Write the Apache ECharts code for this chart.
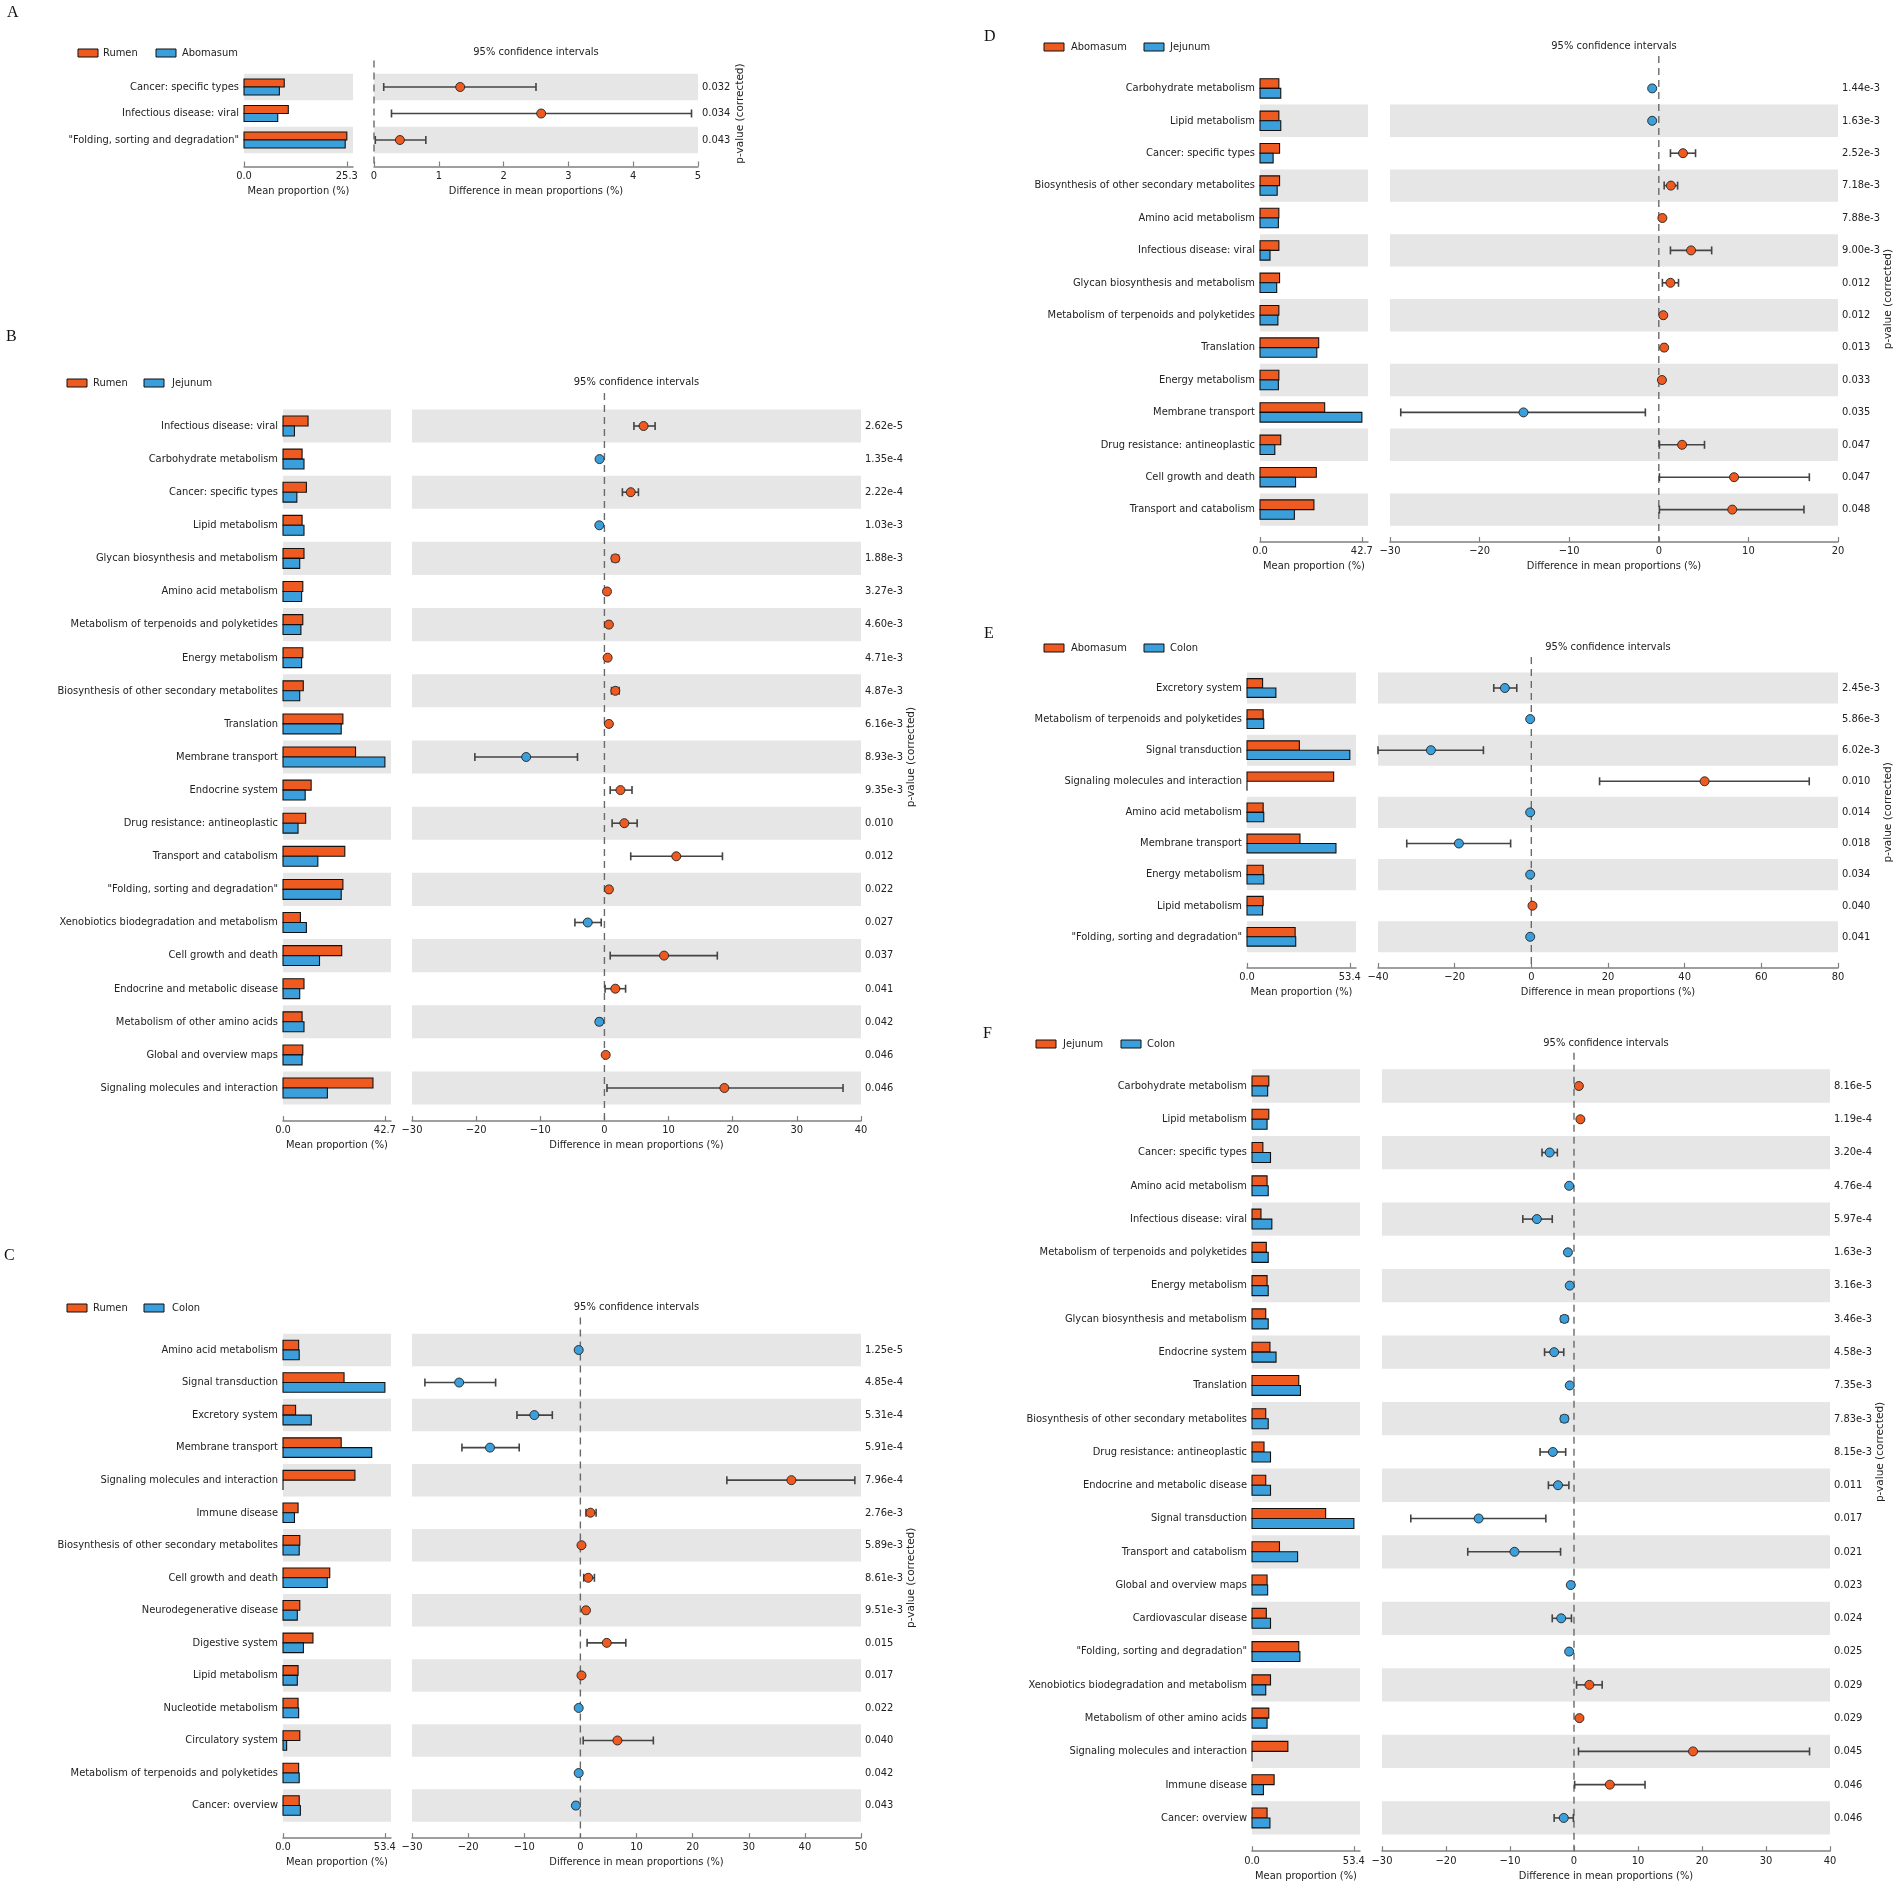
<!DOCTYPE html>
<html lang="en">
<head>
    <meta charset="UTF-8">
    <title>Extended error bar plots</title>
    <script src="https://cdn.jsdelivr.net/npm/echarts@6.0.0/dist/echarts.min.js"></script>
    <style>
        html, body { margin: 0; padding: 0; background: #fff; }
        #main { width: 1902px; height: 1889px; }
    </style>
</head>
<body>
<div id="main"></div>
<script>
    // ---------- A: Rumen vs Abomasum ----------
    var aNames = ['Cancer: specific types', 'Infectious disease: viral', '"Folding, sorting and degradation"'];
    var aGroup1 = [9.9, 10.9, 25.3];
    var aGroup2 = [8.7, 8.3, 24.9];
    var aDiff = [1.33, 2.58, 0.40];
    var aLow = [0.15, 0.27, 0.02];
    var aHigh = [2.50, 4.90, 0.80];
    var aPval = ['0.032', '0.034', '0.043'];

    // ---------- B: Rumen vs Jejunum ----------
    var bNames = ['Infectious disease: viral', 'Carbohydrate metabolism', 'Cancer: specific types', 'Lipid metabolism',
        'Glycan biosynthesis and metabolism', 'Amino acid metabolism', 'Metabolism of terpenoids and polyketides',
        'Energy metabolism', 'Biosynthesis of other secondary metabolites', 'Translation', 'Membrane transport',
        'Endocrine system', 'Drug resistance: antineoplastic', 'Transport and catabolism',
        '"Folding, sorting and degradation"', 'Xenobiotics biodegradation and metabolism', 'Cell growth and death',
        'Endocrine and metabolic disease', 'Metabolism of other amino acids', 'Global and overview maps',
        'Signaling molecules and interaction'];
    var bGroup1 = [10.5, 8.0, 9.8, 8.0, 8.8, 8.3, 8.3, 8.3, 8.5, 25.1, 30.4, 11.8, 9.5, 25.9, 25.1, 7.3, 24.6, 8.8, 8.0, 8.3, 37.7];
    var bGroup2 = [4.8, 8.8, 5.8, 8.8, 7.0, 7.8, 7.5, 7.8, 7.0, 24.4, 42.7, 9.3, 6.3, 14.6, 24.4, 9.8, 15.3, 7.0, 8.8, 8.0, 18.6];
    var bDiff = [6.1, -0.76, 4.1, -0.8, 1.7, 0.4, 0.7, 0.5, 1.7, 0.7, -12.2, 2.5, 3.1, 11.2, 0.7, -2.6, 9.3, 1.7, -0.8, 0.2, 18.7];
    var bLow = [4.6, -0.95, 2.8, -1.0, 1.2, 0.2, 0.4, 0.3, 1.1, 0.4, -20.2, 0.9, 1.2, 4.1, 0.4, -4.6, 0.9, 0.1, -1.2, 0.05, 0.4];
    var bHigh = [7.9, -0.55, 5.3, -0.6, 2.2, 0.6, 1.0, 0.7, 2.3, 1.0, -4.2, 4.3, 5.1, 18.4, 1.0, -0.5, 17.6, 3.3, -0.4, 0.35, 37.2];
    var bPval = ['2.62e-5', '1.35e-4', '2.22e-4', '1.03e-3', '1.88e-3', '3.27e-3', '4.60e-3', '4.71e-3', '4.87e-3',
        '6.16e-3', '8.93e-3', '9.35e-3', '0.010', '0.012', '0.022', '0.027', '0.037', '0.041', '0.042', '0.046', '0.046'];

    // ---------- C: Rumen vs Colon ----------
    var cNames = ['Amino acid metabolism', 'Signal transduction', 'Excretory system', 'Membrane transport',
        'Signaling molecules and interaction', 'Immune disease', 'Biosynthesis of other secondary metabolites',
        'Cell growth and death', 'Neurodegenerative disease', 'Digestive system', 'Lipid metabolism',
        'Nucleotide metabolism', 'Circulatory system', 'Metabolism of terpenoids and polyketides', 'Cancer: overview'];
    var cGroup1 = [8.2, 32.0, 6.6, 30.5, 37.7, 7.9, 8.8, 24.5, 8.8, 15.7, 7.9, 7.9, 8.8, 8.2, 8.5];
    var cGroup2 = [8.5, 53.4, 14.8, 46.5, 0, 6.0, 8.5, 23.2, 7.5, 10.7, 7.5, 8.2, 1.9, 8.5, 9.1];
    var cDiff = [-0.3, -21.6, -8.2, -16.1, 37.6, 1.8, 0.2, 1.4, 1.0, 4.7, 0.2, -0.3, 6.6, -0.3, -0.8];
    var cLow = [-0.5, -27.7, -11.3, -21.1, 26.1, 1.0, 0.05, 0.6, 0.6, 1.2, 0.05, -0.5, 0.5, -0.5, -1.2];
    var cHigh = [-0.1, -15.1, -5.0, -10.9, 48.9, 2.8, 0.35, 2.5, 1.4, 8.1, 0.35, -0.1, 13.0, -0.1, -0.4];
    var cPval = ['1.25e-5', '4.85e-4', '5.31e-4', '5.91e-4', '7.96e-4', '2.76e-3', '5.89e-3', '8.61e-3', '9.51e-3',
        '0.015', '0.017', '0.022', '0.040', '0.042', '0.043'];

    // ---------- D: Abomasum vs Jejunum ----------
    var dNames = ['Carbohydrate metabolism', 'Lipid metabolism', 'Cancer: specific types',
        'Biosynthesis of other secondary metabolites', 'Amino acid metabolism', 'Infectious disease: viral',
        'Glycan biosynthesis and metabolism', 'Metabolism of terpenoids and polyketides', 'Translation',
        'Energy metabolism', 'Membrane transport', 'Drug resistance: antineoplastic', 'Cell growth and death',
        'Transport and catabolism'];
    var dGroup1 = [7.9, 7.9, 8.2, 8.2, 7.9, 7.9, 8.2, 7.9, 24.6, 7.9, 27.1, 8.7, 23.6, 22.6];
    var dGroup2 = [8.7, 8.7, 5.5, 7.2, 7.7, 4.2, 7.0, 7.5, 23.8, 7.7, 42.7, 6.2, 14.9, 14.4];
    var dDiff = [-0.74, -0.74, 2.7, 1.35, 0.4, 3.6, 1.3, 0.5, 0.6, 0.35, -15.1, 2.6, 8.4, 8.2];
    var dLow = [-0.9, -0.9, 1.3, 0.6, 0.25, 1.3, 0.4, 0.3, 0.4, 0.2, -28.8, 0.07, 0.07, 0.07];
    var dHigh = [-0.58, -0.58, 4.1, 2.1, 0.55, 5.9, 2.2, 0.7, 0.8, 0.5, -1.5, 5.1, 16.8, 16.2];
    var dPval = ['1.44e-3', '1.63e-3', '2.52e-3', '7.18e-3', '7.88e-3', '9.00e-3', '0.012', '0.012', '0.013',
        '0.033', '0.035', '0.047', '0.047', '0.048'];

    // ---------- E: Abomasum vs Colon ----------
    var eNames = ['Excretory system', 'Metabolism of terpenoids and polyketides', 'Signal transduction',
        'Signaling molecules and interaction', 'Amino acid metabolism', 'Membrane transport', 'Energy metabolism',
        'Lipid metabolism', '"Folding, sorting and degradation"'];
    var eGroup1 = [8.1, 8.4, 27.2, 45.0, 8.4, 27.5, 8.4, 8.4, 25.0];
    var eGroup2 = [15.0, 8.7, 53.4, 0, 8.7, 46.2, 8.7, 8.1, 25.3];
    var eDiff = [-6.9, -0.3, -26.2, 45.2, -0.3, -18.9, -0.3, 0.3, -0.3];
    var eLow = [-9.8, -0.5, -40.0, 17.8, -0.5, -32.5, -0.5, 0.15, -0.5];
    var eHigh = [-3.8, -0.1, -12.5, 72.5, -0.1, -5.4, -0.1, 0.45, -0.1];
    var ePval = ['2.45e-3', '5.86e-3', '6.02e-3', '0.010', '0.014', '0.018', '0.034', '0.040', '0.041'];

    // ---------- F: Jejunum vs Colon ----------
    var fNames = ['Carbohydrate metabolism', 'Lipid metabolism', 'Cancer: specific types', 'Amino acid metabolism',
        'Infectious disease: viral', 'Metabolism of terpenoids and polyketides', 'Energy metabolism',
        'Glycan biosynthesis and metabolism', 'Endocrine system', 'Translation',
        'Biosynthesis of other secondary metabolites', 'Drug resistance: antineoplastic',
        'Endocrine and metabolic disease', 'Signal transduction', 'Transport and catabolism',
        'Global and overview maps', 'Cardiovascular disease', '"Folding, sorting and degradation"',
        'Xenobiotics biodegradation and metabolism', 'Metabolism of other amino acids',
        'Signaling molecules and interaction', 'Immune disease', 'Cancer: overview'];
    var fGroup1 = [8.8, 8.8, 5.7, 7.9, 4.7, 7.5, 7.9, 7.2, 9.4, 24.5, 7.2, 6.3, 7.2, 38.6, 14.4, 7.9, 7.5, 24.5, 9.7, 8.8, 18.8, 11.6, 7.9];
    var fGroup2 = [8.2, 7.9, 9.7, 8.5, 10.4, 8.5, 8.5, 8.5, 12.6, 25.4, 8.5, 9.7, 9.7, 53.4, 23.9, 8.2, 9.7, 25.1, 7.2, 7.9, 0, 6.0, 9.4];
    var fDiff = [0.76, 1.0, -3.8, -0.76, -5.8, -0.95, -0.66, -1.5, -3.1, -0.66, -1.5, -3.3, -2.5, -14.9, -9.3, -0.5, -2.0, -0.76, 2.4, 0.85, 18.6, 5.6, -1.6];
    var fLow = [0.55, 0.8, -5.0, -0.95, -8.0, -1.15, -0.85, -2.0, -4.6, -0.85, -2.0, -5.3, -4.0, -25.5, -16.6, -0.7, -3.4, -1.0, 0.4, 0.6, 0.7, 0.1, -3.1];
    var fHigh = [0.97, 1.2, -2.6, -0.57, -3.4, -0.75, -0.47, -1.0, -1.6, -0.47, -1.0, -1.3, -0.8, -4.4, -2.1, -0.3, -0.4, -0.5, 4.4, 1.1, 36.8, 11.1, -0.1];
    var fPval = ['8.16e-5', '1.19e-4', '3.20e-4', '4.76e-4', '5.97e-4', '1.63e-3', '3.16e-3', '3.46e-3', '4.58e-3',
        '7.35e-3', '7.83e-3', '8.15e-3', '0.011', '0.017', '0.021', '0.023', '0.024', '0.025', '0.029', '0.029',
        '0.045', '0.046', '0.046'];

    // axis tick labels
    var barMaxTicks = [25.3, 42.7, 53.4, 42.7, 53.4, 53.4];
    var ciMins = [0, -30, -30, -30, -40, -30];
    var ciMaxs = [5, 40, 50, 20, 80, 40];
    var ciSteps = [1, 10, 10, 10, 20, 10];
    var groupNames = [['Rumen', 'Abomasum'], ['Rumen', 'Jejunum'], ['Rumen', 'Colon'],
        ['Abomasum', 'Jejunum'], ['Abomasum', 'Colon'], ['Jejunum', 'Colon']];
    var panelLetters = ['A', 'B', 'C', 'D', 'E', 'F'];

    var panelData = [
        {names: aNames, g1: aGroup1, g2: aGroup2, diff: aDiff, low: aLow, high: aHigh, p: aPval},
        {names: bNames, g1: bGroup1, g2: bGroup2, diff: bDiff, low: bLow, high: bHigh, p: bPval},
        {names: cNames, g1: cGroup1, g2: cGroup2, diff: cDiff, low: cLow, high: cHigh, p: cPval},
        {names: dNames, g1: dGroup1, g2: dGroup2, diff: dDiff, low: dLow, high: dHigh, p: dPval},
        {names: eNames, g1: eGroup1, g2: eGroup2, diff: eDiff, low: eLow, high: eHigh, p: ePval},
        {names: fNames, g1: fGroup1, g2: fGroup2, diff: fDiff, low: fLow, high: fHigh, p: fPval}
    ];

    // page layout (pixels) for every panel
    var layout = [
        {letter: [13, 14], c0: 87, rowH: 26.5, barL: 244, barR: 353, ciL: 374, ciR: 698, legY: 53, legX: [78, 103, 156, 182], pGap: 37},
        {letter: [12, 338], c0: 426, rowH: 33.1, barL: 283, barR: 391, ciL: 412, ciR: 861, legY: 383, legX: [67, 93, 144, 172], pGap: 45},
        {letter: [10, 1257], c0: 1350, rowH: 32.54, barL: 283, barR: 391, ciL: 412, ciR: 861, legY: 1308, legX: [67, 93, 144, 172], pGap: 45},
        {letter: [990, 38], c0: 88.4, rowH: 32.4, barL: 1260, barR: 1368, ciL: 1390, ciR: 1838, legY: 47, legX: [1044, 1071, 1144, 1170], pGap: 45},
        {letter: [990, 635], c0: 688, rowH: 31.1, barL: 1247, barR: 1356, ciL: 1378, ciR: 1838, legY: 648, legX: [1044, 1071, 1144, 1170], pGap: 45},
        {letter: [989, 1035], c0: 1086, rowH: 33.27, barL: 1252, barR: 1360, ciL: 1382, ciR: 1830, legY: 1044, legX: [1036, 1063, 1121, 1147], pGap: 45}
    ];

    var ORANGE = '#EE5A1F', BLUE = '#3A9FDA', BAND = '#E6E6E6', AXIS = '#808080', TXT = '#222';
    var FONT = "'Liberation Sans Narrow', 'DejaVu Sans Condensed', Roboto, sans-serif";
    var FS = 11;

    function bandItem(params, api) {
        var cs = params.coordSys;
        var i = api.value(1);
        var y0 = api.coord([0, i - 0.5])[1];
        var y1 = api.coord([0, i + 0.5])[1];
        return {
            type: 'rect',
            shape: {x: cs.x, y: Math.min(y0, y1), width: cs.width, height: Math.abs(y1 - y0)},
            style: {fill: BAND}
        };
    }

    function barsItem(params, api) {
        var i = api.value(0);
        var base = api.coord([0, i]);
        var pa = api.coord([api.value(1), i]);
        var pb = api.coord([api.value(2), i]);
        var h = Math.abs(api.size([0, 1])[1]) * 0.3;
        return {
            type: 'group',
            children: [
                {type: 'rect', shape: {x: base[0], y: base[1] - h, width: pa[0] - base[0], height: h},
                    style: {fill: ORANGE, stroke: '#111', lineWidth: 1.1}},
                {type: 'rect', shape: {x: base[0], y: base[1], width: pb[0] - base[0], height: h},
                    style: {fill: BLUE, stroke: '#111', lineWidth: 1.1}}
            ]
        };
    }

    function ciItem(params, api) {
        var i = api.value(0), d = api.value(1);
        var pl = api.coord([api.value(2), i]);
        var ph = api.coord([api.value(3), i]);
        var pd = api.coord([d, i]);
        var cap = 4;
        var lineStyle = {stroke: '#444', lineWidth: 1.6};
        return {
            type: 'group',
            children: [
                {type: 'line', shape: {x1: pl[0], y1: pl[1], x2: ph[0], y2: ph[1]}, style: lineStyle},
                {type: 'line', shape: {x1: pl[0], y1: pl[1] - cap, x2: pl[0], y2: pl[1] + cap}, style: lineStyle},
                {type: 'line', shape: {x1: ph[0], y1: ph[1] - cap, x2: ph[0], y2: ph[1] + cap}, style: lineStyle},
                {type: 'circle', shape: {cx: pd[0], cy: pd[1], r: 4.5},
                    style: {fill: d >= 0 ? ORANGE : BLUE, stroke: '#222', lineWidth: 0.9}}
            ]
        };
    }

    function textStyle(size) {
        return {color: TXT, fontSize: size || FS, fontFamily: FONT};
    }

    var option = {
        animation: false,
        backgroundColor: '#fff',
        grid: [], xAxis: [], yAxis: [], series: [], graphic: []
    };

    panelData.forEach(function (pd, k) {
        var L = layout[k];
        var n = pd.names.length;
        var top = L.c0 - L.rowH;
        var height = (n + 1) * L.rowH;
        var gBar = option.grid.length;
        var gCi = gBar + 1;
        var barMax = barMaxTicks[k];

        option.grid.push({left: L.barL, top: top, width: L.barR - L.barL, height: height, outerBoundsMode: 'none'});
        option.grid.push({left: L.ciL, top: top, width: L.ciR - L.ciL, height: height, outerBoundsMode: 'none'});

        // mean proportion axis
        option.xAxis.push({
            gridIndex: gBar, type: 'value', min: 0, max: barMax * 1.06,
            axisLine: {show: true, onZero: false, lineStyle: {color: AXIS, width: 1.5}},
            axisTick: {show: true, inside: true, length: 5, customValues: [0, barMax], lineStyle: {color: AXIS, width: 1.2}},
            axisLabel: Object.assign({customValues: [0, barMax], margin: 4, formatter: function (v) {
                return (+v).toFixed(1);
            }}, textStyle()),
            splitLine: {show: false},
            name: 'Mean proportion (%)', nameLocation: 'middle', nameGap: 19, nameMoveOverlap: false,
            nameTextStyle: textStyle()
        });
        // difference axis
        option.xAxis.push({
            gridIndex: gCi, type: 'value', min: ciMins[k], max: ciMaxs[k], interval: ciSteps[k],
            axisLine: {show: true, onZero: false, lineStyle: {color: AXIS, width: 1.5}},
            axisTick: {show: true, inside: true, length: 5, lineStyle: {color: AXIS, width: 1.2}},
            axisLabel: Object.assign({margin: 4, showMinLabel: true, showMaxLabel: true, formatter: function (v) {
                return String(v).replace('-', '\u2212');
            }}, textStyle()),
            splitLine: {show: false},
            name: 'Difference in mean proportions (%)', nameLocation: 'middle', nameGap: 19, nameMoveOverlap: false,
            nameTextStyle: textStyle()
        });
        // category labels on the left
        option.yAxis.push({
            gridIndex: gBar, type: 'value', inverse: true, min: -1, max: n, interval: 1,
            axisLine: {show: false}, axisTick: {show: false}, splitLine: {show: false},
            axisLabel: Object.assign({margin: 5, showMinLabel: true, showMaxLabel: true, formatter: function (v) {
                return pd.names[Math.round(v)] || '';
            }}, textStyle())
        });
        // p-values on the right
        option.yAxis.push({
            gridIndex: gCi, type: 'value', inverse: true, min: -1, max: n, interval: 1, position: 'right',
            axisLine: {show: false}, axisTick: {show: false}, splitLine: {show: false},
            axisLabel: Object.assign({margin: 4, showMinLabel: true, showMaxLabel: true, formatter: function (v) {
                return pd.p[Math.round(v)] || '';
            }}, textStyle()),
            name: 'p-value (corrected)', nameLocation: 'middle', nameRotate: 90, nameGap: L.pGap,
            nameMoveOverlap: false,
            nameTextStyle: {color: TXT, fontSize: 10.5, fontFamily: "'DejaVu Sans', sans-serif"}
        });

        // grey bands: last row shaded, alternating upwards
        var bands = [];
        for (var i = 0; i < n; i++) {
            if ((n - 1 - i) % 2 === 0) bands.push([0, i]);
        }
        var rows = [], cis = [];
        for (var j = 0; j < n; j++) {
            rows.push([j, pd.g1[j], pd.g2[j]]);
            cis.push([j, pd.diff[j], pd.low[j], pd.high[j]]);
        }

        option.series.push({
            type: 'custom', xAxisIndex: gBar, yAxisIndex: gBar, renderItem: bandItem,
            data: bands, encode: {x: 0, y: 1}, z: 1, silent: true
        });
        option.series.push({
            type: 'custom', xAxisIndex: gCi, yAxisIndex: gCi, renderItem: bandItem,
            data: bands, encode: {x: 0, y: 1}, z: 1, silent: true
        });
        option.series.push({
            type: 'custom', xAxisIndex: gBar, yAxisIndex: gBar, renderItem: barsItem,
            data: rows, encode: {x: [1, 2], y: 0}, z: 3, clip: false
        });
        option.series.push({
            type: 'line', xAxisIndex: gCi, yAxisIndex: gCi, data: [[0, -1], [0, n]],
            showSymbol: false, symbol: 'none', z: 2, silent: true,
            lineStyle: {color: '#6a6a6a', width: 1.4, type: [7, 5]}
        });
        option.series.push({
            type: 'custom', xAxisIndex: gCi, yAxisIndex: gCi, renderItem: ciItem,
            data: cis, encode: {x: [1, 2, 3], y: 0}, z: 4, clip: false
        });

        // panel letter, legend, CI title
        option.graphic.push({
            type: 'text', left: L.letter[0] - 6, top: L.letter[1] - 9,
            style: {text: panelLetters[k], fill: '#111', fontSize: 16, fontFamily: "'Liberation Serif', serif"}
        });
        option.graphic.push({
            type: 'rect', shape: {x: L.legX[0], y: L.legY - 4, width: 20, height: 8},
            style: {fill: ORANGE, stroke: '#111', lineWidth: 1}
        });
        option.graphic.push({
            type: 'text', x: L.legX[1], y: L.legY,
            style: {text: groupNames[k][0], fill: TXT, fontSize: FS, fontFamily: FONT, textVerticalAlign: 'middle'}
        });
        option.graphic.push({
            type: 'rect', shape: {x: L.legX[2], y: L.legY - 4, width: 20, height: 8},
            style: {fill: BLUE, stroke: '#111', lineWidth: 1}
        });
        option.graphic.push({
            type: 'text', x: L.legX[3], y: L.legY,
            style: {text: groupNames[k][1], fill: TXT, fontSize: FS, fontFamily: FONT, textVerticalAlign: 'middle'}
        });
        option.graphic.push({
            type: 'text', x: (L.ciL + L.ciR) / 2, y: L.legY - 1,
            style: {text: '95% confidence intervals', fill: TXT, fontSize: FS, fontFamily: FONT,
                textAlign: 'center', textVerticalAlign: 'middle'}
        });
    });

    var myChart = echarts.init(document.getElementById('main'), null, {renderer: 'canvas'});
    myChart.setOption(option);
</script>
</body>
</html>
